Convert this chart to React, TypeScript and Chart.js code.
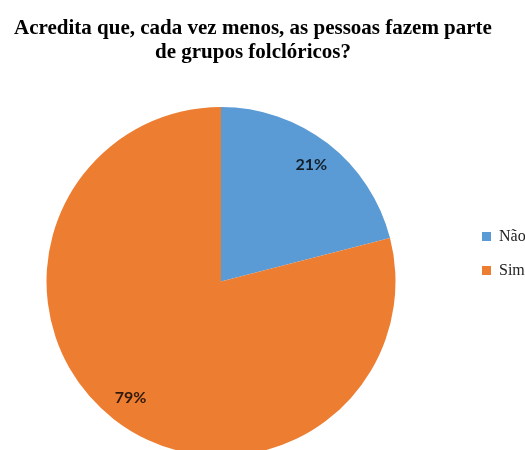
import React, { useEffect, useRef } from "react";
import { Chart, registerables } from "chart.js";

Chart.register(...registerables);

const TITLE_LINES = ["Acredita que, cada vez menos, as pessoas fazem parte", "de grupos folclóricos?"];
const CATEGORIES = ["Não", "Sim"];
const VALUES = [21, 79];
const COLORS = ["#5B9BD5", "#ED7D31"];

const LEGEND_ITEM_X = 482;
const LEGEND_FIRST_CENTER_Y = 236.5;
const LEGEND_PAD = 18;
const LEGEND_FONT = 16;

const legendFix = {
  id: "legendFix",
  beforeLayout(chart: any) {
    const lg = chart.legend;
    if (lg && !lg._fixPatched) {
      const orig = lg.fit.bind(lg);
      lg.fit = () => {
        orig();
        lg.width = 64;
      };
      lg._fixPatched = true;
    }
  },
  afterLayout(chart: any) {
    const lg = chart.legend;
    if (!lg) return;
    const dx = LEGEND_ITEM_X - (lg.left + LEGEND_PAD);
    lg.left += dx;
    lg.right += dx;
    const targetTop = LEGEND_FIRST_CENTER_Y - LEGEND_FONT / 2 - LEGEND_PAD;
    const dy = targetTop - lg.top;
    lg.top += dy;
    lg.bottom += dy;
  },
};

const sliceLabels = {
  id: "sliceLabels",
  afterDatasetsDraw(chart: any) {
    const meta = chart.getDatasetMeta(0);
    const ctx = chart.ctx;
    ctx.save();
    ctx.font = "bold 16px Lato";
    ctx.fillStyle = "rgba(0,0,0,0.8)";
    ctx.textAlign = "center";
    ctx.textBaseline = "middle";
    meta.data.forEach((arc: any, i: number) => {
      const p = arc.getProps(["x", "y", "startAngle", "endAngle", "outerRadius"], true);
      const mid = (p.startAngle + p.endAngle) / 2;
      const r = p.outerRadius * 0.845;
      ctx.fillText(`${VALUES[i]}%`, p.x + Math.cos(mid) * r, p.y + Math.sin(mid) * r);
    });
    ctx.restore();
  },
};

export default function App() {
  const ref = useRef<HTMLCanvasElement>(null);
  useEffect(() => {
    document.body.style.margin = "0";
    const canvas = ref.current;
    if (!canvas) return;
    const chart = new Chart(canvas, {
      type: "pie",
      data: {
        labels: CATEGORIES,
        datasets: [
          {
            data: VALUES,
            backgroundColor: COLORS,
            borderWidth: 0,
            radius: 174.5,
            clip: false,
          } as any,
        ],
      },
      options: {
        responsive: false,
        animation: false,
        devicePixelRatio: 1,
        layout: { padding: { top: 0, right: 19, bottom: 0, left: 0 } },
        plugins: {
          tooltip: { enabled: false },
          title: {
            display: true,
            text: TITLE_LINES,
            color: "#000",
            font: { family: "'Liberation Serif'", size: 21, weight: "bold", lineHeight: 24 / 21 },
            padding: { top: 17, bottom: 48 },
          },
          legend: {
            display: true,
            position: "right",
            align: "start",
            labels: {
              boxWidth: 9,
              boxHeight: 9,
              padding: LEGEND_PAD,
              color: "#222",
              font: { family: "'Liberation Serif'", size: LEGEND_FONT },
            },
          },
        },
      } as any,
      plugins: [legendFix, sliceLabels],
    });
    return () => chart.destroy();
  }, []);
  return (
    <div style={{ width: 525, height: 450, overflow: "hidden" }}>
      <canvas ref={ref} width={525} height={450} style={{ display: "block" }} />
    </div>
  );
}
